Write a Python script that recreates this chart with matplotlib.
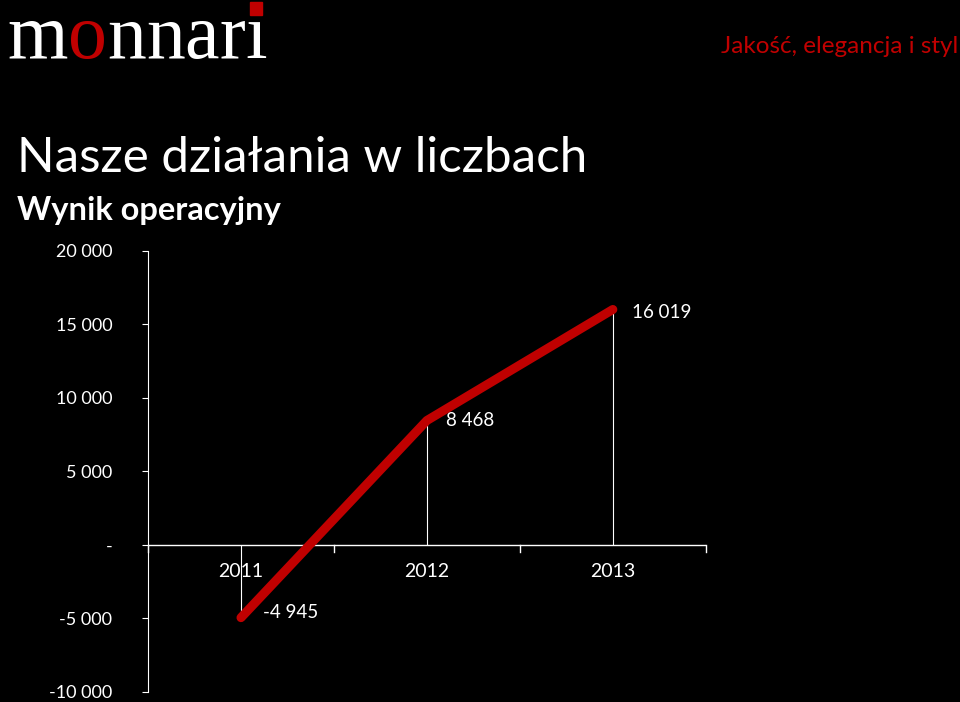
import matplotlib
matplotlib.use("Agg")
import matplotlib.pyplot as plt

lata = ["2011", "2012", "2013"]
wynik = [-4945, 8468, 16019]
etykiety = ["-4 945", "8 468", "16 019"]
yticks = [-10000, -5000, 0, 5000, 10000, 15000, 20000]
ytick_labels = ["-10 000", "-5 000", "-", "5 000", "10 000", "15 000", "20 000"]

czerwony = "#c00000"
plt.rcParams['font.family'] = ['Lato', 'DejaVu Sans']

fig = plt.figure(figsize=(9.6, 7.02), dpi=100, facecolor="black")

# logo: litery po kolei, "o" na czerwono
logo_x = 0.008
for litera, kolor in zip("monnari", ["white", czerwony, "white", "white", "white", "white", "white"]):
    t = fig.text(logo_x, 1 - 58 / 702, litera, color=kolor, family="Liberation Serif",
                 fontsize=56, va="baseline")
    fig.canvas.draw()
    szer = t.get_window_extent().width / fig.bbox.width
    srodek_i = logo_x + szer / 2
    logo_x += szer
# czerwony kwadrat zamiast kropki nad "i"
fig.patches.append(plt.Rectangle((srodek_i - 0.0065, 0.9786), 0.013, 0.0185,
                                 transform=fig.transFigure, color=czerwony,
                                 figure=fig, zorder=5))
fig.text(0.998, 1 - 53 / 702, "Jakość, elegancja i styl", color=czerwony, fontsize=17.5,
         ha="right", va="baseline")
fig.text(0.018, 1 - 172 / 702, "Nasze działania w liczbach", color="white", fontsize=35.5,
         va="baseline")
fig.text(0.018, 1 - 220 / 702, "Wynik operacyjny", color="white", fontsize=23.5,
         fontweight="bold", va="baseline")

ax = fig.add_axes([0.1542, 0.0143, 0.581, 0.6282])
ax.set_facecolor("black")
x = range(len(lata))
ax.plot(x, wynik, color=czerwony, lw=6.5, solid_capstyle="round", zorder=3)
ax.vlines(x, 0, wynik, color="white", lw=0.8, zorder=2)
offsets = [(16, 4), (14, 0), (14, -2)]
for xi, yi, lab, off in zip(x, wynik, etykiety, offsets):
    ax.annotate(lab, (xi, yi), xytext=off, textcoords="offset points",
                color="white", fontsize=13.5, va="center", ha="left")

ax.set_xlim(-0.5, 2.5)
ax.set_ylim(-10000, 20000)
ax.set_yticks(yticks)
ax.set_yticklabels(ytick_labels)
ax.tick_params(axis="y", colors="white", labelsize=13, length=4.3, pad=21.5)
ax.set_xticks([])

for s in ["top", "right", "bottom"]:
    ax.spines[s].set_visible(False)
ax.spines["left"].set_color("white")

# os kategorii przy zerze
ax.axhline(0, color="white", lw=1)
for g in [-0.5, 0.5, 1.5, 2.5]:
    ax.plot([g, g], [0, -450], color="white", lw=1, clip_on=False)
for xi, rok in zip(x, lata):
    ax.text(xi, -1800, rok, color="white", fontsize=14, ha="center", va="center")

fig.savefig("out.png", dpi=100, facecolor="black")
